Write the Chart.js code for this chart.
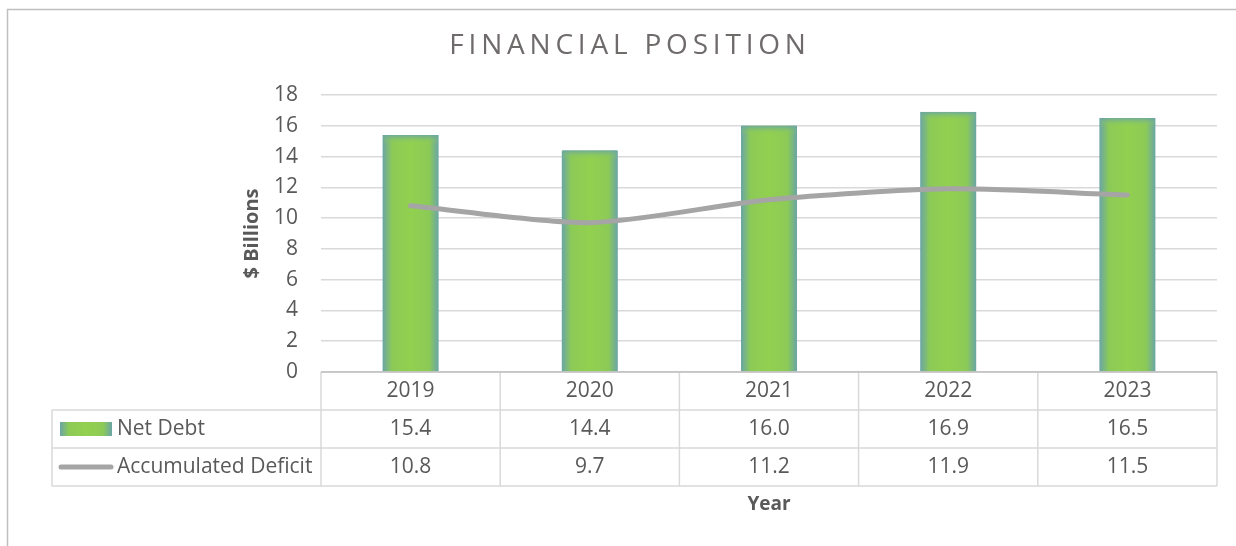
<!DOCTYPE html>
<html>
<head>
<meta charset="utf-8">
<script src="https://cdn.jsdelivr.net/npm/chart.js@4/dist/chart.umd.min.js"></script>
<style>
html,body{margin:0;padding:0;background:#fff;}
#wrap{position:relative;width:1236px;height:546px;}
</style>
</head>
<body>
<div id="wrap"><canvas id="c" width="1236" height="546"></canvas></div>
<script>
// ---- data ----
const chartTitle = 'FINANCIAL POSITION';
const years = ['2019', '2020', '2021', '2022', '2023'];
const netDebt = [15.4, 14.4, 16.0, 16.9, 16.5];
const accumulatedDeficit = [10.8, 9.7, 11.2, 11.9, 11.5];
const seriesNames = ['Net Debt', 'Accumulated Deficit'];
const yAxisTitle = '$ Billions';
const xAxisTitle = 'Year';
const yMin = 0, yMax = 18, yStep = 2;

// ---- styles ----
const FONT = "'Open Sans', 'Liberation Sans', sans-serif";
const TEXT = '#595959';
const GRID = '#d9d9d9';
const FRAME = '#bfbfbf';
const LINE = '#a5a5a5';
const BAR_PCT = 0.3125;
const ROW_H = 38;

function greenGrad(ctx, x0, x1) {
  const g = ctx.createLinearGradient(x0, 0, x1, 0);
  g.addColorStop(0, '#6aa5a6');
  g.addColorStop(0.17, '#8cca57');
  g.addColorStop(0.5, '#92d050');
  g.addColorStop(0.83, '#8cca57');
  g.addColorStop(1, '#6aa5a6');
  return g;
}

const decorPlugin = {
  id: 'decor',
  beforeDraw(chart) {
    const ctx = chart.ctx;
    ctx.save();
    // outer frame
    ctx.strokeStyle = FRAME;
    ctx.lineWidth = 1.5;
    ctx.beginPath();
    ctx.moveTo(7.5, 546);
    ctx.lineTo(7.5, 9.5);
    ctx.lineTo(1236, 9.5);
    ctx.stroke();
    // title
    ctx.fillStyle = '#6f6b6b';
    ctx.font = `28px ${FONT}`;
    ctx.letterSpacing = '4.8px';
    ctx.textAlign = 'center';
    ctx.textBaseline = 'middle';
    ctx.fillText(chartTitle, 630, 46);
    ctx.restore();
  },
  afterDatasetDraw(chart, args) {
    if (args.index !== 0) return;
    // soft teal fade at top edge of each bar
    const ctx = chart.ctx;
    ctx.save();
    args.meta.data.forEach(el => {
      const w = el.width, x0 = el.x - w / 2;
      const g = ctx.createLinearGradient(0, el.y, 0, el.y + 9);
      g.addColorStop(0, 'rgba(106,165,166,0.85)');
      g.addColorStop(1, 'rgba(146,208,80,0)');
      ctx.fillStyle = g;
      ctx.fillRect(x0 + 1, el.y, w - 2, 9);
    });
    ctx.restore();
  },
  afterDraw(chart) {
    const ctx = chart.ctx;
    const xs = chart.scales.x;
    const area = chart.chartArea;
    const colW = (area.right - area.left) / years.length;
    const top = area.bottom;
    const tableLeft = 52;
    ctx.save();
    // grid lines of table
    ctx.strokeStyle = GRID;
    ctx.lineWidth = 1.5;
    ctx.beginPath();
    for (let i = 0; i <= years.length; i++) {
      const x = area.left + i * colW;
      ctx.moveTo(x, top);
      ctx.lineTo(x, top + 3 * ROW_H);
    }
    ctx.moveTo(tableLeft, top + ROW_H);
    ctx.lineTo(tableLeft, top + 3 * ROW_H);
    for (let r = 1; r <= 3; r++) {
      ctx.moveTo(tableLeft, top + r * ROW_H);
      ctx.lineTo(area.right, top + r * ROW_H);
    }
    ctx.stroke();
    // axis line
    ctx.strokeStyle = FRAME;
    ctx.beginPath();
    ctx.moveTo(area.left, top);
    ctx.lineTo(area.right, top);
    ctx.stroke();

    // text
    ctx.fillStyle = TEXT;
    ctx.font = `21px ${FONT}`;
    ctx.textAlign = 'center';
    ctx.textBaseline = 'middle';
    years.forEach((y, i) => ctx.fillText(y, xs.getPixelForValue(i), top + ROW_H / 2));
    [netDebt, accumulatedDeficit].forEach((arr, r) => {
      arr.forEach((v, i) => ctx.fillText(v.toFixed(1), xs.getPixelForValue(i), top + (r + 1.5) * ROW_H));
    });
    ctx.textAlign = 'left';
    seriesNames.forEach((n, r) => ctx.fillText(n, 117, top + (r + 1.5) * ROW_H));

    // legend keys
    const ky1 = top + 1.5 * ROW_H;
    ctx.fillStyle = greenGrad(ctx, 60, 112);
    ctx.fillRect(60, ky1 - 7, 52, 14);
    const ky2 = top + 2.5 * ROW_H;
    ctx.strokeStyle = LINE;
    ctx.lineWidth = 5;
    ctx.lineCap = 'round';
    ctx.beginPath();
    ctx.moveTo(61, ky2);
    ctx.lineTo(111, ky2);
    ctx.stroke();

    // x axis title
    ctx.fillStyle = TEXT;
    ctx.font = `bold 19px ${FONT}`;
    ctx.textAlign = 'center';
    ctx.fillText(xAxisTitle, (area.left + area.right) / 2, 505);
    ctx.restore();
  }
};

new Chart(document.getElementById('c'), {
  data: {
    labels: years,
    datasets: [
      {
        type: 'bar',
        label: seriesNames[0],
        data: netDebt,
        order: 2,
        barPercentage: BAR_PCT,
        categoryPercentage: 1,
        backgroundColor: (c) => {
          const chart = c.chart;
          const xs = chart.scales.x;
          if (!xs || !chart.chartArea || c.dataIndex === undefined) return '#92d050';
          const cx = xs.getPixelForValue(c.dataIndex);
          const w = (xs.right - xs.left) / years.length * BAR_PCT;
          return greenGrad(chart.ctx, cx - w / 2, cx + w / 2);
        },
        borderWidth: 0
      },
      {
        type: 'line',
        label: seriesNames[1],
        data: accumulatedDeficit,
        order: 1,
        borderColor: LINE,
        borderWidth: 5,
        borderCapStyle: 'round',
        borderJoinStyle: 'round',
        tension: 0.25,
        pointRadius: 0,
        pointHoverRadius: 0,
        fill: false
      }
    ]
  },
  options: {
    responsive: false,
    animation: false,
    events: [],
    layout: { padding: { left: 236, right: 19, top: 95, bottom: 174 } },
    plugins: {
      legend: { display: false },
      title: { display: false },
      tooltip: { enabled: false }
    },
    scales: {
      x: {
        display: false,
        offset: true
      },
      y: {
        min: yMin,
        max: yMax,
        afterFit(scale) { scale.width = 85; },
        border: { display: false },
        grid: { color: GRID, lineWidth: 1.5, drawTicks: false },
        ticks: {
          stepSize: yStep,
          padding: 23,
          color: TEXT,
          font: { family: FONT, size: 21 }
        },
        title: {
          display: true,
          text: yAxisTitle,
          color: TEXT,
          font: { family: FONT, size: 20, weight: 'bold' },
          padding: { top: 4, bottom: 0 }
        }
      }
    }
  },
  plugins: [decorPlugin]
});
</script>
</body>
</html>
